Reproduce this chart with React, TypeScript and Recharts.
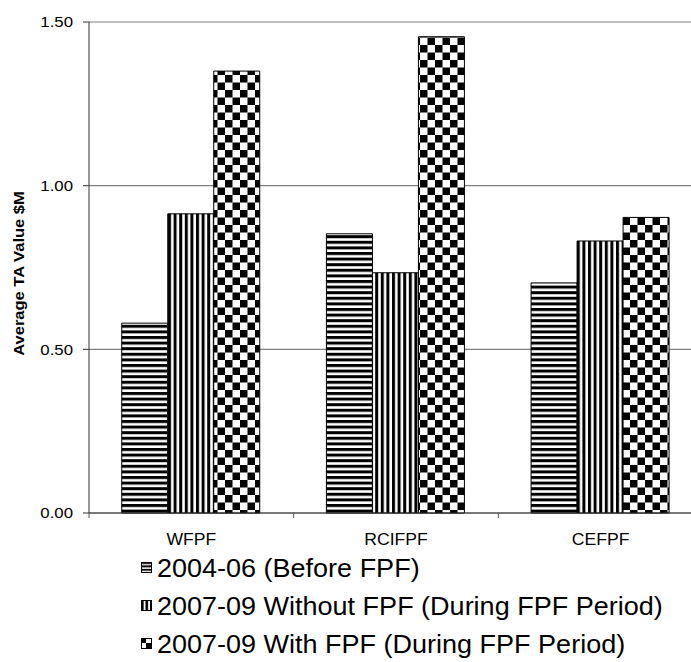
import { BarChart, Bar, XAxis, YAxis, CartesianGrid } from "recharts";

const categories = ["WFPF", "RCIFPF", "CEFPF"];
const beforeFpf = [0.58, 0.853, 0.703];
const withoutFpf = [0.914, 0.734, 0.831];
const withFpf = [1.35, 1.455, 0.903];
const yTicks = [0, 0.5, 1, 1.5];
const seriesNames = [
  "2004-06 (Before FPF)",
  "2007-09 Without FPF (During FPF Period)",
  "2007-09 With FPF (During FPF Period)",
];

const data = categories.map((name, i) => ({
  name,
  before: beforeFpf[i],
  without: withoutFpf[i],
  with: withFpf[i],
}));

const FONT = "'Liberation Sans', Arial, sans-serif";
const FILLS = ["url(#hstripe)", "url(#vstripe)", "url(#checker)"];
const ICON_FILLS = ["url(#hstripeS)", "url(#vstripeS)", "url(#checkerS)"];
const KEYS = ["before", "without", "with"];

// the source text is a little wider than plain Arial, so stretch it a bit
function CategoryTick(props: any) {
  const { x, y, payload } = props;
  const half = payload?.offset ?? 102;
  return (
    <g>
      <line x1={x - half} y1={y - 8} x2={x - half} y2={y - 3} stroke="#555" />
      <g transform={`translate(${x},${y + 24}) scale(1.1,1)`}>
        <text textAnchor="middle" fontSize={16} fontFamily={FONT} fill="#000">
          {payload.value}
        </text>
      </g>
    </g>
  );
}

function ValueTick(props: any) {
  const { x, y, payload } = props;
  return (
    <g transform={`translate(${x},${y}) scale(1.12,1)`}>
      <text textAnchor="end" dy="0.36em" fontSize={15} fontFamily={FONT} fill="#000">
        {Number(payload.value).toFixed(2)}
      </text>
    </g>
  );
}

function YLabel(props: any) {
  const vb = props.viewBox || { x: 0, y: 22, height: 491 };
  const cx = 19;
  const cy = vb.y + vb.height / 2 + 6;
  return (
    <g transform={`translate(${cx},${cy}) rotate(-90) scale(1.18,1)`}>
      <text
        textAnchor="middle"
        dominantBaseline="central"
        fontSize={14}
        fontWeight="bold"
        fontFamily={FONT}
        fill="#000"
      >
        Average TA Value $M
      </text>
    </g>
  );
}

export default function App() {
  return (
    <div
      style={{
        position: "absolute",
        left: 0,
        top: 0,
        width: 691,
        height: 662,
        overflow: "hidden",
        background: "#fff",
      }}
    >
      <BarChart
        width={711}
        height={662}
        data={data}
        margin={{ top: 22, right: 8, left: 0, bottom: 119 }}
        barCategoryGap="16%"
        barGap={0}
      >
        <defs>
          <pattern id="hstripe" width="6" height="5.6" patternUnits="userSpaceOnUse">
            <rect width="6" height="5.6" fill="#fff" />
            <rect width="6" height="3" fill="#000" />
          </pattern>
          <pattern id="vstripe" width="5.6" height="6" patternUnits="userSpaceOnUse">
            <rect width="5.6" height="6" fill="#fff" />
            <rect width="3" height="6" fill="#000" />
          </pattern>
          <pattern id="checker" width="15" height="15" patternUnits="userSpaceOnUse">
            <rect width="15" height="15" fill="#fff" />
            <rect width="7.5" height="7.5" fill="#000" />
            <rect x="7.5" y="7.5" width="7.5" height="7.5" fill="#000" />
          </pattern>
        </defs>
        <CartesianGrid vertical={false} stroke="#808080" strokeWidth={1.2} />
        <XAxis
          dataKey="name"
          height={30}
          axisLine={{ stroke: "#333" }}
          tickLine={false}
          tick={<CategoryTick />}
          interval={0}
        />
        <YAxis
          width={89}
          domain={[0, 1.5]}
          ticks={yTicks}
          axisLine={{ stroke: "#333" }}
          tickLine={{ stroke: "#333" }}
          tickSize={6}
          tickMargin={10}
          tick={<ValueTick />}
          label={<YLabel />}
        />
        {KEYS.map((k, i) => (
          <Bar
            key={k}
            dataKey={k}
            name={seriesNames[i]}
            fill={FILLS[i]}
            stroke="#000"
            strokeWidth={1}
            isAnimationActive={false}
          />
        ))}
      </BarChart>

      <div
        style={{
          position: "absolute",
          left: 141,
          top: 549,
          fontFamily: FONT,
          fontSize: 25,
          color: "#000",
          lineHeight: "38px",
        }}
      >
        <svg width="0" height="0" style={{ position: "absolute" }}>
          <defs>
            <pattern id="hstripeS" width="10" height="3.4" patternUnits="userSpaceOnUse">
              <rect width="10" height="3.4" fill="#fff" />
              <rect width="10" height="2" fill="#000" />
            </pattern>
            <pattern id="vstripeS" width="4.5" height="10" patternUnits="userSpaceOnUse">
              <rect width="4.5" height="10" fill="#fff" />
              <rect width="2.6" height="10" fill="#000" />
            </pattern>
            <pattern id="checkerS" width="10" height="10" patternUnits="userSpaceOnUse">
              <rect width="10" height="10" fill="#fff" />
              <rect width="5" height="5" fill="#000" />
              <rect x="5" y="5" width="5" height="5" fill="#000" />
            </pattern>
          </defs>
        </svg>
        {seriesNames.map((s, i) => (
          <div key={s} style={{ display: "flex", alignItems: "center", whiteSpace: "nowrap" }}>
            <svg width={15} height={12} style={{ marginRight: 1 }}>
              <rect x={0.5} y={0.5} width={10} height={10} fill={ICON_FILLS[i]} stroke="#000" />
            </svg>
            <span style={{ display: "inline-block", transform: "scaleX(1.08)", transformOrigin: "left center" }}>
              {s}
            </span>
          </div>
        ))}
      </div>
    </div>
  );
}
